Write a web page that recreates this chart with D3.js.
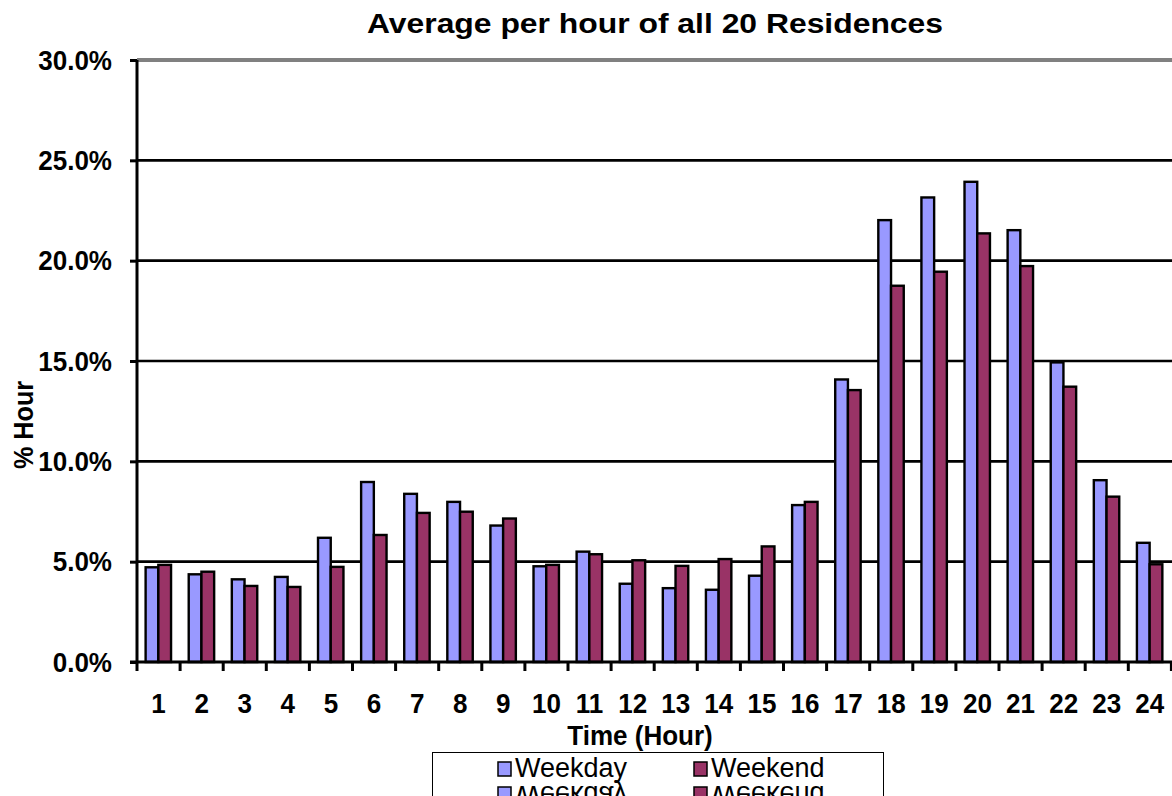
<!DOCTYPE html>
<meta charset="utf-8">
<style>
    body { margin: 0; background: #fff; }
    text { font-family: "Liberation Sans", Arial, sans-serif; fill: #000; }
    .bold { font-weight: bold; }
</style>
<body>
<script src="https://cdn.jsdelivr.net/npm/d3@7"></script>
<script>

// data
var hours = ["1","2","3","4","5","6","7","8","9","10","11","12",
             "13","14","15","16","17","18","19","20","21","22","23","24"];
var weekday = [4.72, 4.37, 4.12, 4.24, 6.19, 8.97, 8.38, 7.98, 6.8, 4.77, 5.5, 3.9,
               3.68, 3.6, 4.3, 7.82, 14.08, 22.02, 23.15, 23.93, 21.52, 14.93, 9.06, 5.94];
var weekend = [4.84, 4.5, 3.79, 3.74, 4.74, 6.33, 7.43, 7.49, 7.15, 4.84, 5.37, 5.07,
               4.79, 5.13, 5.76, 7.98, 13.55, 18.75, 19.45, 21.36, 19.73, 13.72, 8.24, 4.87];
var yTicks = [0, 5, 10, 15, 20, 25, 30];
var seriesNames = ["Weekday", "Weekend"];
var colors = ["#9999ff", "#993366"];

var W = 1172, H = 796;
var left = 137, top0 = 60, bottom0 = 662;
var step = 43.1;

var svg = d3.select("body").append("svg")
    .attr("width", W)
    .attr("height", H);

var x = d3.scaleBand().domain(hours).range([left, left + step * hours.length]).padding(0);
var xs = d3.scaleBand().domain(seriesNames).range([step * 0.2, step * 0.79]).padding(0);
var y = d3.scaleLinear().domain([0, 30]).range([bottom0, top0]);

// gridlines
svg.selectAll(".grid")
    .data(yTicks.filter(function (d) { return d > 0; }))
    .enter().append("line")
    .attr("x1", left).attr("x2", W)
    .attr("y1", function (d) { return y(d); })
    .attr("y2", function (d) { return y(d); })
    .attr("stroke", function (d) { return d === 30 ? "#808080" : "#000"; })
    .attr("stroke-width", function (d) { return d === 30 ? 4 : 2.6; });

// bars
var rows = hours.map(function (h, i) { return { hour: h, vals: [weekday[i], weekend[i]] }; });
var grp = svg.selectAll(".hour")
    .data(rows)
    .enter().append("g")
    .attr("transform", function (d) { return "translate(" + x(d.hour) + ",0)"; });

grp.selectAll("rect")
    .data(function (d) { return d.vals.map(function (v, j) { return { s: seriesNames[j], v: v, j: j }; }); })
    .enter().append("rect")
    .attr("x", function (d) { return xs(d.s); })
    .attr("width", xs.bandwidth())
    .attr("y", function (d) { return y(d.v); })
    .attr("height", function (d) { return bottom0 - y(d.v); })
    .attr("fill", function (d) { return colors[d.j]; })
    .attr("stroke", "#000")
    .attr("stroke-width", 2.4);

// y axis
var yAxis = svg.append("g")
    .attr("transform", "translate(" + left + ",0)")
    .call(d3.axisLeft(y).tickValues(yTicks).tickSize(7).tickFormat(function (d) { return d.toFixed(1) + "%"; }));
yAxis.select(".domain").attr("stroke", "#000").attr("stroke-width", 3)
    .attr("d", "M0," + top0 + "V" + bottom0);
yAxis.selectAll(".tick line").attr("stroke", "#000").attr("stroke-width", 3);
yAxis.selectAll(".tick text")
    .attr("class", "bold")
    .attr("font-size", 28)
    .attr("x", null).attr("dy", null)
    .attr("text-anchor", "end")
    .attr("dominant-baseline", "central")
    .attr("transform", "translate(-25,0) scale(0.93,1)");

// x axis
var xAxis = svg.append("g")
    .attr("transform", "translate(0," + bottom0 + ")")
    .call(d3.axisBottom(x).tickSize(0).tickPadding(0));
xAxis.select(".domain").attr("stroke", "#000").attr("stroke-width", 3)
    .attr("d", "M" + (left - 7) + ",0H" + W);
xAxis.selectAll(".tick text")
    .attr("class", "bold")
    .attr("font-size", 28)
    .attr("y", null).attr("dy", null)
    .attr("transform", "translate(0,51) scale(0.93,1)");
// ticks between categories
svg.selectAll(".xtick")
    .data(hours.concat(["end"]))
    .enter().append("line")
    .attr("x1", function (d, i) { return left + step * i; })
    .attr("x2", function (d, i) { return left + step * i; })
    .attr("y1", bottom0).attr("y2", bottom0 + 9)
    .attr("stroke", "#000").attr("stroke-width", 3);

// title
svg.append("text")
    .attr("class", "bold")
    .attr("x", 367).attr("y", 33)
    .attr("font-size", 28)
    .attr("textLength", 576)
    .attr("lengthAdjust", "spacingAndGlyphs")
    .text("Average per hour of all 20 Residences");

// axis titles
svg.append("text")
    .attr("class", "bold")
    .attr("font-size", 28)
    .attr("text-anchor", "middle")
    .attr("transform", "translate(640,745) scale(0.93,1)")
    .text("Time (Hour)");

svg.append("text")
    .attr("class", "bold")
    .attr("font-size", 28)
    .attr("text-anchor", "middle")
    .attr("transform", "translate(33,425) rotate(-90) scale(0.9,1)")
    .text("% Hour");

// legend
svg.append("rect")
    .attr("x", 432.5).attr("y", 752.5)
    .attr("width", 451).attr("height", 80)
    .attr("fill", "#fff").attr("stroke", "#000").attr("stroke-width", 1);

var legX = [498, 694];
function legendRow(g) {
    var item = g.selectAll(".leg")
        .data(seriesNames)
        .enter().append("g")
        .attr("transform", function (d, i) { return "translate(" + legX[i] + ",0)"; });
    item.append("rect")
        .attr("x", 0).attr("y", 762)
        .attr("width", 13).attr("height", 14)
        .attr("fill", function (d, i) { return colors[i]; })
        .attr("stroke", "#000").attr("stroke-width", 1.5);
    item.append("text")
        .attr("x", 17).attr("y", 777)
        .attr("font-size", 27)
        .text(function (d) { return d; });
}
legendRow(svg.append("g"));
// mirrored copy visible at the bottom edge
legendRow(svg.append("g").attr("transform", "translate(0," + (2 * 781.5) + ") scale(1,-1)"));

</script>
</body>
